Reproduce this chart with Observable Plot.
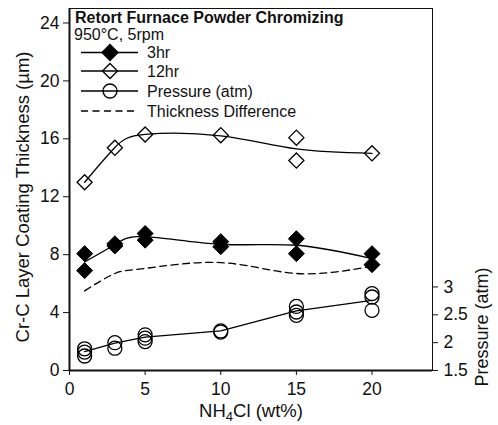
<!DOCTYPE html>
<html><head><meta charset="utf-8">
<script src="https://cdn.jsdelivr.net/npm/d3@7"></script>
<script src="https://cdn.jsdelivr.net/npm/@observablehq/plot@0.6"></script>
<style>
body{margin:0;background:#fff}
</style>
</head><body><div id="chart"></div>
<script>
// NH4Cl levels
const nh4cl = [1, 3, 5, 10, 15, 20];
// 3hr replicates (µm)
const x3hr = [1, 1, 3, 3, 5, 5, 10, 10, 15, 15, 20, 20];
const t3hr = [8.07, 6.9, 8.75, 8.6, 9.46, 9.0, 8.9, 8.55, 9.1, 8.07, 8.07, 7.31];
const fit3hr = [7.5, 8.7, 9.25, 8.72, 8.65, 7.73];
// 12hr replicates (µm)
const x12hr = [1, 3, 5, 10, 15, 15, 20];
const t12hr = [13.0, 15.38, 16.3, 16.25, 16.08, 14.5, 15.0];
const fit12hr = [13.0, 15.4, 16.3, 16.2, 15.3, 15.0];
// Pressure (atm)
const xP = [1, 1, 1, 3, 3, 5, 5, 5, 10, 10, 15, 15, 15, 20, 20, 20];
const pP = [1.89, 1.83, 1.76, 2.0, 1.9, 2.14, 2.08, 2.02, 2.21, 2.19, 2.65, 2.55, 2.49, 2.88, 2.82, 2.58];
const fitP = [1.84, 1.99, 2.1, 2.21, 2.57, 2.76];
// Thickness difference (µm)
const diffT = [5.5, 6.7, 7.05, 7.45, 6.7, 7.2];
// ticks
const yTicks = [0, 4, 8, 12, 16, 20, 24];
const xTicks = [0, 5, 10, 15, 20];
const pTicks = [1.5, 2, 2.5, 3];

const W = 498, H = 425;
const mL = 69, mR = 66, mT = 8, mB = 55;
const FONT = "'Liberation Sans', Arial, sans-serif";
// pressure -> left-axis units
const pScale = d3.scaleLinear([1.5, 3], [0, 5.77]);

const fits = nh4cl.map((x, i) => ({x, f3: fit3hr[i], f12: fit12hr[i], fp: pScale(fitP[i]), d: diffT[i]}));
const pts3 = x3hr.map((x, i) => ({x, y: t3hr[i]}));
const pts12 = x12hr.map((x, i) => ({x, y: t12hr[i]}));
const ptsP = xP.map((x, i) => ({x, y: pScale(pP[i])}));

const fs = 17.5;
const plot = Plot.plot({
  width: W, height: H,
  marginLeft: mL, marginRight: mR, marginTop: mT, marginBottom: mB,
  style: {fontFamily: FONT, fontSize: "16px", background: "#fff", color: "#111"},
  x: {domain: [0, 24]},
  y: {domain: [0, 25]},
  marks: [
    Plot.frame({stroke: "#111", strokeWidth: 1}),
    Plot.axisX(xTicks, {tickSize: 5, tickPadding: 7, fontSize: fs, label: null, stroke: "#111", fill: "#111"}),
    Plot.axisY(yTicks, {tickSize: 6, tickPadding: 4, fontSize: fs, label: null, stroke: "#111", fill: "#111"}),
    Plot.axisY(pTicks, {y: pScale, anchor: "right", tickSize: 5, tickPadding: 6, fontSize: fs, label: null, stroke: "#111", fill: "#111", tickFormat: d => String(d)}),
    Plot.ruleX([0], {stroke: "#111", strokeWidth: 2}),
    Plot.ruleY([0], {stroke: "#111", strokeWidth: 2}),
    Plot.line(fits, {x: "x", y: "f12", curve: "natural", stroke: "#000", strokeWidth: 1.3}),
    Plot.line(fits, {x: "x", y: "f3", curve: "natural", stroke: "#000", strokeWidth: 1.3}),
    Plot.line(fits, {x: "x", y: "d", curve: "natural", stroke: "#000", strokeWidth: 1.3, strokeDasharray: "7,4.5"}),
    Plot.line(fits, {x: "x", y: "fp", stroke: "#000", strokeWidth: 1.3}),
    Plot.dot(pts12, {x: "x", y: "y", symbol: "diamond2", r: 6.8, fill: "none", stroke: "#000", strokeWidth: 1.3}),
    Plot.dot(pts3, {x: "x", y: "y", symbol: "diamond2", r: 7.2, fill: "#000", stroke: "#000", strokeWidth: 1}),
    Plot.dot(ptsP, {x: "x", y: "y", r: 7, fill: "none", stroke: "#000", strokeWidth: 1.3})
  ]
});

const svg = d3.select(plot);
const T = (sel) => sel.attr("font-family", FONT).attr("fill", "#111");
// axis titles
T(svg.append("text"))
  .attr("transform", `translate(23,197) rotate(-90)`)
  .attr("text-anchor", "middle").attr("dy", "0.35em")
  .attr("font-size", 18.5)
  .text("Cr-C Layer Coating Thickness (µm)");
T(svg.append("text"))
  .attr("transform", `translate(482,327) rotate(-90)`)
  .attr("text-anchor", "middle").attr("dy", "0.35em")
  .attr("font-size", 18)
  .text("Pressure (atm)");
const xl = T(svg.append("text")).attr("x", 251).attr("y", 417).attr("text-anchor", "middle")
  .attr("font-size", 18.5);
xl.append("tspan").text("NH");
xl.append("tspan").attr("font-size", 13).attr("dy", 4).text("4");
xl.append("tspan").attr("dy", -4).text("Cl (wt%)");

// legend
const lg = svg.append("g");
T(lg.append("text")).attr("x", 75).attr("y", 23).attr("text-anchor", "start").attr("font-size", 16).attr("font-weight", "bold")
  .text("Retort Furnace Powder Chromizing");
T(lg.append("text")).attr("x", 74).attr("y", 40).attr("text-anchor", "start").attr("font-size", 16).text("950°C, 5rpm");
const items = [
  {label: "3hr", sym: "d", fill: "#000", cy: 52.5},
  {label: "12hr", sym: "d", fill: "none", cy: 71},
  {label: "Pressure (atm)", sym: "c", fill: "none", cy: 91},
  {label: "Thickness Difference", sym: null, fill: "none", cy: 111}
];
items.forEach(it => {
  lg.append("line").attr("x1", 81).attr("x2", 138).attr("y1", it.cy).attr("y2", it.cy)
    .attr("stroke", "#000").attr("stroke-width", 1.3)
    .attr("stroke-dasharray", it.sym ? null : "7,4.5");
  if (it.sym === "d") {
    const r = it.fill === "none" ? 6.8 : 7.2;
    lg.append("path").attr("transform", `translate(110,${it.cy})`)
      .attr("d", d3.symbol(d3.symbolDiamond2, r * r * Math.PI)())
      .attr("fill", it.fill).attr("stroke", "#000").attr("stroke-width", 1.3);
  } else if (it.sym === "c") {
    lg.append("circle").attr("cx", 110).attr("cy", it.cy).attr("r", 7)
      .attr("fill", "none").attr("stroke", "#000").attr("stroke-width", 1.3);
  }
  T(lg.append("text")).attr("x", 147).attr("y", it.cy).attr("dy", "0.36em").attr("text-anchor", "start")
    .attr("font-size", 16).text(it.label);
});

document.getElementById("chart").appendChild(plot);
</script>
</body></html>
